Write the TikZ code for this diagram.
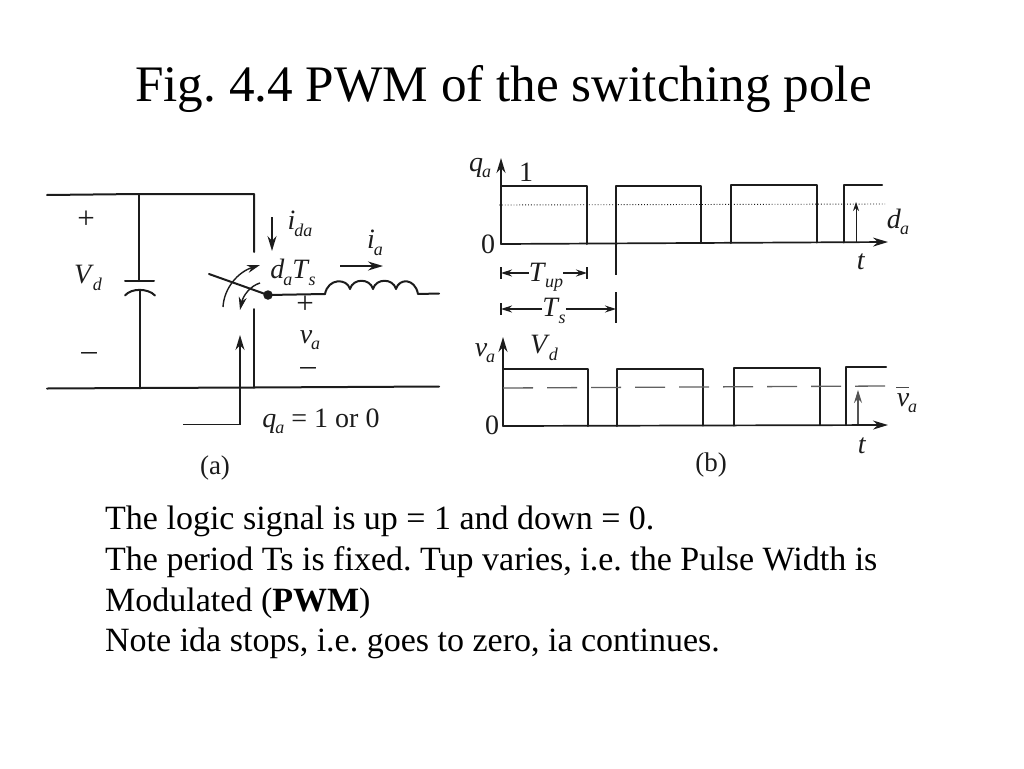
\documentclass[tikz,border=0pt]{standalone}
\usepackage{fontspec}
\setmainfont{Liberation Serif}
\usetikzlibrary{arrows.meta}
\frenchspacing
\newcommand{\lbl}[2]{\textit{#1}\kern-1pt\raisebox{-.5ex}{\fontsize{18}{18}\selectfont\textit{#2}}}
\definecolor{ink}{HTML}{1C1C1C}
\tikzset{
  wire/.style={draw=ink,line width=2pt,line cap=round,line join=round},
  thin wire/.style={draw=ink,line width=1.3pt},
  arrowed/.style={draw=ink,line width=1.7pt,-{Stealth[length=15pt,width=9pt]}},
  smallarrow/.style={draw=ink,line width=1.4pt,-{Stealth[length=13pt,width=8pt]}},
  dimline/.style={draw=ink,line width=1.3pt,-{Stealth[length=11pt,width=7pt]}},
  lab/.style={inner sep=0pt,text=ink,font=\fontsize{28}{28}\selectfont},
  sign/.style={inner sep=0pt,text=ink,font=\fontsize{31}{31}\selectfont},
  title/.style={inner sep=0pt,anchor=base west,text=black,font=\fontsize{51.2}{51.2}\selectfont},
  body/.style={inner sep=0pt,anchor=base west,text=black,font=\fontsize{34}{34}\selectfont}
}
\begin{document}
\begin{tikzpicture}[x=1pt,y=-1pt]
\useasboundingbox (0,0) rectangle (1024,768);
\node[title] (ttl) at (135,101) {Fig. 4.4 PWM of the switching pole};
% ---- circuit (a)
\coordinate (tl) at (47,195);
\coordinate (tc) at (139,194);
\coordinate (tr) at (254,194);
\coordinate (sw1) at (254,252);
\coordinate (sw2) at (254,309);
\coordinate (bl) at (47,388.5);
\coordinate (bc) at (140,388);
\coordinate (bs) at (254,387.5);
\coordinate (br) at (439,386.5);
\coordinate (capT) at (139,281);
\coordinate (capB) at (140,290);
\coordinate (bladeEnd) at (209,274);
\coordinate (ind1) at (325,294);
\coordinate (ind2) at (418,294);
\coordinate (out) at (439,293.5);
\draw[wire] (tl) -- (tc) -- (tr) -- (sw1);
\draw[wire] (sw2) -- (bs);
\draw[wire] (bl) -- (bc) -- (bs) -- (br);
\draw[wire] (tc) -- (capT);
\draw[wire] (125,281) -- (154,281);
\draw[wire] (125,295.5) .. controls (131,288) and (148,288) .. (155,295.5);
\draw[wire] (capB) -- (bc);
\node[circle,fill=ink,inner sep=0pt,minimum size=9.5pt] (dot) at (268,295) {};
\draw[wire] (bladeEnd) -- (dot.center) -- (ind1);
\draw[wire] (ind1) .. controls (328,278) and (347,278) .. (350,289)
  .. controls (353,278) and (370,278) .. (373,289)
  .. controls (376,278) and (393,278) .. (396,289)
  .. controls (399,278) and (415,278) .. (418,294) -- (out);
\coordinate (a1s) at (223,307);
\coordinate (a1e) at (260,265);
\draw[smallarrow] (a1s) .. controls (224,288) and (238,272) .. (a1e);
\coordinate (a2s) at (260,283);
\coordinate (a2e) at (240,310);
\draw[smallarrow] (a2s) .. controls (250,286) and (243,296) .. (a2e);
\coordinate (ida1) at (272,217);
\coordinate (ida2) at (272,251);
\draw[arrowed] (ida1) -- (ida2);
\coordinate (ia1) at (340,266);
\coordinate (ia2) at (383,266);
\draw[arrowed] (ia1) -- (ia2);
\coordinate (ctl1) at (183,424.5);
\coordinate (ctl2) at (240,424.5);
\coordinate (ctl3) at (240,335);
\draw[arrowed] (ctl1) -- (ctl2) -- (ctl3);
\node[sign] (pl1) at (86,220) {+};
\node[lab] (vd) at (88,278) {\lbl{V}{d}};
\node[sign] (mi1) at (89,356) {–};
\node[lab] (ida) at (300,224) {\lbl{i}{da}};
\node[lab] (ia) at (375,243) {\lbl{i}{a}};
\node[lab] (dats) at (293,272.5) {\lbl{d}{a}\lbl{T}{s}};
\node[sign] (pl2) at (305,305) {+};
\node[lab] (va) at (310,340) {\lbl{v}{a}};
\node[sign] (mi2) at (308,371) {–};
\node[lab] (qa) at (321,421) {\lbl{q}{a} = 1 or 0};
\node[lab,font=\fontsize{27}{27}\selectfont] (capa) at (215,468) {(a)};
% ---- waveform q_a
\coordinate (q0) at (501,244);
\coordinate (qtop) at (501,158);
\coordinate (qend) at (888,242);
\draw[wire] (q0) -- (501,186) -- (587,186) -- (587,244);
\draw[wire] (616,244) -- (616,185.5) -- (701,185.5) -- (701,243);
\draw[wire] (731,243) -- (731,185) -- (817,185) -- (817,242.5);
\draw[wire] (844,242.5) -- (844,185) -- (882,185);
\draw[arrowed] (q0) -- (qtop);
\draw[arrowed] (q0) -- (qend);
\draw[draw=ink,line width=.9pt,dotted] (499,205) -- (885,204);
\coordinate (da1) at (856,242);
\coordinate (da2) at (856,202);
\draw[draw=ink,line width=.8pt,-{Stealth[length=9pt,width=6pt]}] (da1) -- (da2);
\draw[thin wire] (616,244) -- (616,275);
\draw[thin wire] (616,292) -- (616,323);
\draw[thin wire] (501,267) -- (501,279);
\draw[thin wire] (587,267) -- (587,279);
\draw[thin wire] (501,303) -- (501,315);
\coordinate (tu1) at (501,273);
\coordinate (tu2) at (587,273);
\coordinate (ts1) at (501,309);
\coordinate (ts2) at (616,309);
\node[lab] (tup) at (546,277) {\lbl{T}{up}};
\node[lab] (tss) at (554,311) {\lbl{T}{s}};
\draw[dimline] (tup.west |- tu1) -- (tu1);
\draw[dimline] (tup.east |- tu2) -- (tu2);
\draw[dimline] (tss.west |- ts1) -- (ts1);
\draw[dimline] (tss.east |- ts2) -- (ts2);
\node[lab] (qal) at (480,168) {\lbl{q}{a}};
\node[lab] (one) at (526,172) {1};
\node[lab] (zero1) at (488,244) {0};
\node[lab] (dal) at (898,222) {\lbl{d}{a}};
\node[lab] (t1) at (861,262) {\textit{t}};
% ---- waveform v_a
\coordinate (v0) at (503,426);
\coordinate (vtop) at (503,337);
\coordinate (vend) at (888,425);
\draw[wire] (v0) -- (503,369) -- (588,369) -- (588,426);
\draw[wire] (617,426) -- (617,368.5) -- (703,368.5) -- (703,425.5);
\draw[wire] (734,425.5) -- (734,368) -- (820,368) -- (820,425);
\draw[wire] (846,425) -- (846,367) -- (886,367);
\draw[arrowed] (v0) -- (vtop);
\draw[arrowed] (v0) -- (vend);
\draw[draw=ink!70,line width=1.3pt,dash pattern=on 30pt off 14pt] (503,388) -- (886,386);
\coordinate (vb1) at (858,424);
\coordinate (vb2) at (858,390);
\draw[draw=ink!75,line width=1.1pt,-{Stealth[length=13pt,width=8pt]}] (vb1) -- (vb2);
\node[lab] (val) at (485,353) {\lbl{v}{a}};
\node[lab] (vdl) at (544,348) {\lbl{V}{d}};
\node[lab] (zero2) at (492,425) {0};
\node[lab] (vbar) at (907,403) {\lbl{v}{a}};
\draw[draw=ink!80,line width=1.1pt] (896,387.5) -- (909,387.5);
\node[lab] (t2) at (862,446) {\textit{t}};
\node[lab,font=\fontsize{27}{27}\selectfont] (capb) at (711,465) {(b)};
% ---- text
\node[body] (l1) at (105,529) {The logic signal is up = 1 and down = 0.};
\node[body] (l2) at (105,570) {The period Ts is fixed. Tup varies, i.e. the Pulse Width is};
\node[body] (l3) at (105,611) {Modulated (\textbf{PWM})};
\node[body] (l4) at (105,651) {Note ida stops, i.e. goes to zero, ia continues.};
\end{tikzpicture}
\end{document}
